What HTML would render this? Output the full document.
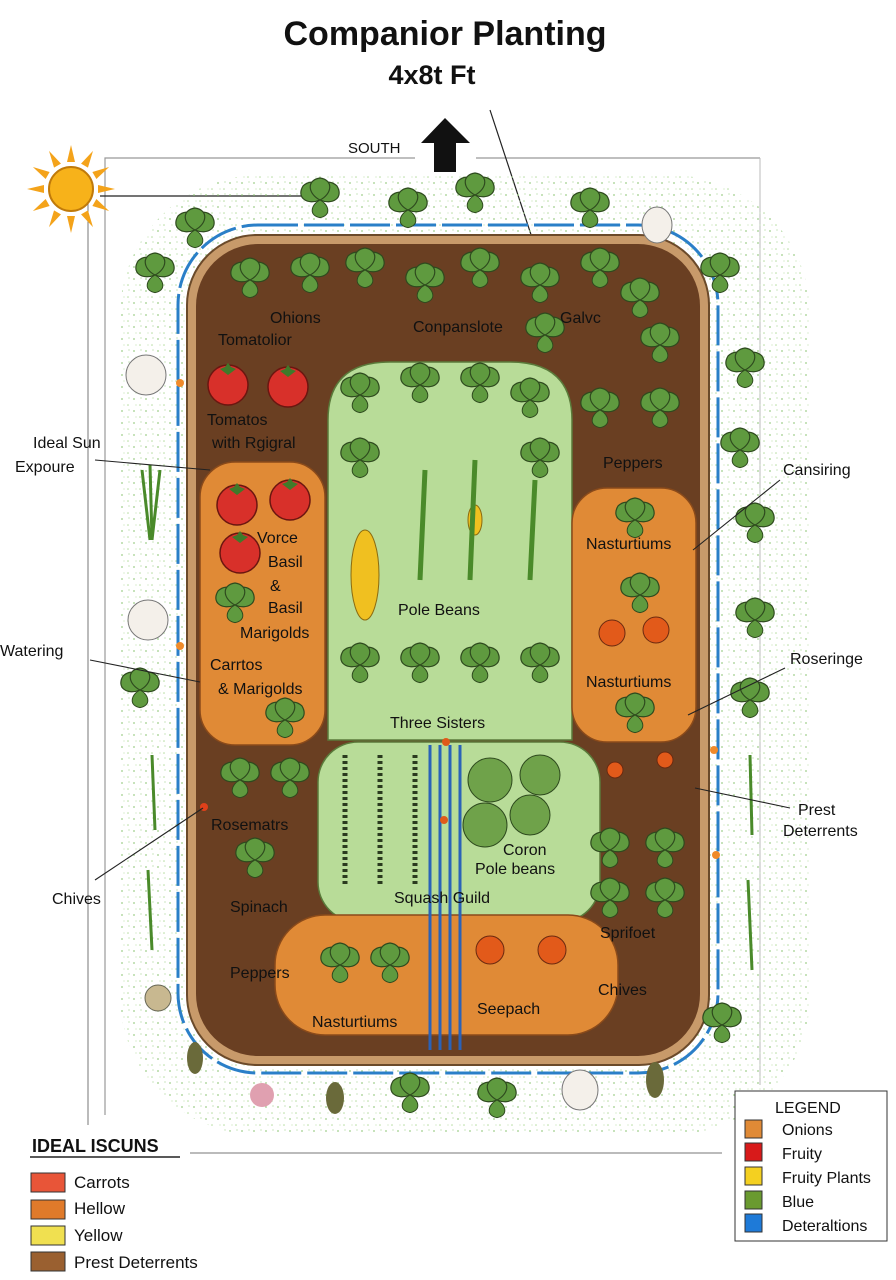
<!DOCTYPE html>
<html><head><style>
body{margin:0;width:896px;height:1280px;background:#fff;overflow:hidden}
svg{display:block}
text{font-family:"Liberation Sans",sans-serif;fill:#111}
</style></head><body>
<svg width="896" height="1280" viewBox="0 0 896 1280">
<defs>
<pattern id="sp" width="12" height="12" patternUnits="userSpaceOnUse">
<circle cx="2" cy="3" r="0.9" fill="#9fce8a"/><circle cx="8" cy="9" r="0.8" fill="#b5dca0"/><circle cx="9" cy="2" r="0.6" fill="#a7d394"/><circle cx="4" cy="9" r="0.6" fill="#c3e3b2"/>
</pattern>
<g id="lf"><path d="M0,0 C-12,-6 -14,-20 0,-22 C14,-20 12,-6 0,0Z" fill="#5f9a3f" stroke="#2e4a1e" stroke-width="1.2"/></g>
<g id="pl"><use href="#lf" transform="rotate(-50)"/><use href="#lf" transform="rotate(50)"/><use href="#lf"/><use href="#lf" transform="rotate(180) scale(.8)"/></g>
<g id="tom"><circle r="20" fill="#d8302a" stroke="#6b1610" stroke-width="1.5"/><path d="M-8,-16 L0,-10 L8,-16 L3,-18 L0,-22 L-3,-18Z" fill="#3f7a2a"/></g>
</defs>
<text x="445" y="45" font-size="34" font-weight="bold" text-anchor="middle">Companior Planting</text>
<text x="432" y="84" font-size="27" font-weight="bold" text-anchor="middle">4x8t Ft</text>
<polyline points="105,1115 105,158 415,158" fill="none" stroke="#999" stroke-width="1.2"/>
<line x1="476" y1="158" x2="760" y2="158" stroke="#999" stroke-width="1.2"/>
<line x1="760" y1="158" x2="760" y2="1085" stroke="#bbb" stroke-width="1"/>
<line x1="88" y1="200" x2="88" y2="1125" stroke="#777" stroke-width="1"/>
<text x="348" y="153" font-size="15">SOUTH</text>
<path d="M421,143 L445,118 L470,143 L456,143 L456,172 L434,172 L434,143Z" fill="#111"/>
<line x1="490" y1="110" x2="540" y2="262" stroke="#222" stroke-width="1.2"/>
<!-- sun -->
<g transform="translate(71,189)"><circle r="22" fill="#f7b21a" stroke="#c07a0a" stroke-width="2"/>
<g fill="#f4a31a"><path d="M-4,-27 L0,-44 L4,-27Z" transform="rotate(0)"/><path d="M-4,-27 L0,-44 L4,-27Z" transform="rotate(30)"/><path d="M-4,-27 L0,-44 L4,-27Z" transform="rotate(60)"/><path d="M-4,-27 L0,-44 L4,-27Z" transform="rotate(90)"/><path d="M-4,-27 L0,-44 L4,-27Z" transform="rotate(120)"/><path d="M-4,-27 L0,-44 L4,-27Z" transform="rotate(150)"/><path d="M-4,-27 L0,-44 L4,-27Z" transform="rotate(180)"/><path d="M-4,-27 L0,-44 L4,-27Z" transform="rotate(210)"/><path d="M-4,-27 L0,-44 L4,-27Z" transform="rotate(240)"/><path d="M-4,-27 L0,-44 L4,-27Z" transform="rotate(270)"/><path d="M-4,-27 L0,-44 L4,-27Z" transform="rotate(300)"/><path d="M-4,-27 L0,-44 L4,-27Z" transform="rotate(330)"/></g></g>
<line x1="100" y1="196" x2="320" y2="196" stroke="#222" stroke-width="1.2"/>
<!-- speckle -->
<rect x="120" y="175" width="690" height="960" rx="140" fill="url(#sp)"/>
<!-- bed -->
<rect x="178" y="225" width="540" height="848" rx="80" fill="none" stroke="#2a7fc8" stroke-width="3" stroke-dasharray="40 6"/>
<rect x="187" y="235" width="522" height="830" rx="70" fill="#c89a6a" stroke="#6b4a2a" stroke-width="2"/>
<rect x="196" y="244" width="504" height="812" rx="62" fill="#6a3f22"/>
<path d="M328,740 L328,420 Q328,362 390,362 L510,362 Q572,362 572,420 L572,740Z" fill="#b8dc98" stroke="#5a7a3a" stroke-width="1.5"/>
<rect x="318" y="742" width="282" height="180" rx="40" fill="#b8dc98" stroke="#5a7a3a" stroke-width="1.5"/>
<rect x="200" y="462" width="125" height="283" rx="35" fill="#e08a36" stroke="#8a4a1a" stroke-width="1.5"/>
<rect x="572" y="488" width="124" height="254" rx="35" fill="#e08a36" stroke="#8a4a1a" stroke-width="1.5"/>
<rect x="275" y="915" width="343" height="120" rx="50" fill="#e08a36" stroke="#8a4a1a" stroke-width="1.5"/>
<path d="M430,745 L430,1050 M460,745 L460,1050 M440,745 L440,1050 M450,745 L450,1050" stroke="#2a62b8" stroke-width="3"/>
<circle cx="446" cy="742" r="4" fill="#e05a1a"/><circle cx="444" cy="820" r="4" fill="#e05a1a"/>
<circle cx="180" cy="383" r="4" fill="#f08a2a"/><circle cx="180" cy="646" r="4" fill="#f08a2a"/><circle cx="714" cy="750" r="4" fill="#f08a2a"/><circle cx="716" cy="855" r="4" fill="#f08a2a"/><circle cx="204" cy="807" r="4" fill="#e0401a"/>
<!-- plants -->
<g>
<use href="#pl" transform="translate(320,200)"/><use href="#pl" transform="translate(408,210)"/><use href="#pl" transform="translate(475,195)"/><use href="#pl" transform="translate(590,210)"/><use href="#pl" transform="translate(195,230)"/><use href="#pl" transform="translate(155,275)"/><use href="#pl" transform="translate(720,275)"/><use href="#pl" transform="translate(745,370)"/><use href="#pl" transform="translate(740,450)"/><use href="#pl" transform="translate(755,525)"/><use href="#pl" transform="translate(755,620)"/><use href="#pl" transform="translate(750,700)"/><use href="#pl" transform="translate(140,690)"/><use href="#pl" transform="translate(722,1025)"/><use href="#pl" transform="translate(497,1100)"/><use href="#pl" transform="translate(410,1095)"/>
<use href="#pl" transform="translate(250,280)"/><use href="#pl" transform="translate(310,275)"/><use href="#pl" transform="translate(365,270)"/><use href="#pl" transform="translate(425,285)"/><use href="#pl" transform="translate(480,270)"/><use href="#pl" transform="translate(540,285)"/><use href="#pl" transform="translate(600,270)"/><use href="#pl" transform="translate(640,300)"/><use href="#pl" transform="translate(545,335)"/><use href="#pl" transform="translate(660,345)"/><use href="#pl" transform="translate(600,410)"/><use href="#pl" transform="translate(660,410)"/>
<use href="#pl" transform="translate(360,395)"/><use href="#pl" transform="translate(420,385)"/><use href="#pl" transform="translate(480,385)"/><use href="#pl" transform="translate(530,400)"/><use href="#pl" transform="translate(360,460)"/><use href="#pl" transform="translate(540,460)"/><use href="#pl" transform="translate(360,665)"/><use href="#pl" transform="translate(420,665)"/><use href="#pl" transform="translate(480,665)"/><use href="#pl" transform="translate(540,665)"/>
<use href="#pl" transform="translate(240,780)"/><use href="#pl" transform="translate(290,780)"/><use href="#pl" transform="translate(255,860)"/><use href="#pl" transform="translate(635,520)"/><use href="#pl" transform="translate(640,595)"/><use href="#pl" transform="translate(635,715)"/><use href="#pl" transform="translate(235,605)"/><use href="#pl" transform="translate(285,720)"/>
<use href="#pl" transform="translate(610,850)"/><use href="#pl" transform="translate(665,850)"/><use href="#pl" transform="translate(610,900)"/><use href="#pl" transform="translate(665,900)"/><use href="#pl" transform="translate(340,965)"/><use href="#pl" transform="translate(390,965)"/>
</g>
<g fill="#6fa24a" stroke="#2e4a1e"><circle cx="490" cy="780" r="22"/><circle cx="540" cy="775" r="20"/><circle cx="485" cy="825" r="22"/><circle cx="530" cy="815" r="20"/></g>
<g stroke="#2a3a1e" stroke-width="5" stroke-dasharray="3 3"><line x1="345" y1="755" x2="345" y2="885"/><line x1="380" y1="755" x2="380" y2="885"/><line x1="415" y1="755" x2="415" y2="885"/></g>
<g fill="#f0c020" stroke="#8a6a10"><ellipse cx="365" cy="575" rx="14" ry="45"/><ellipse cx="475" cy="520" rx="7" ry="15"/></g>
<g stroke="#4a8a2a" stroke-width="5" fill="none"><path d="M420,580 L425,470 M470,580 L475,460 M530,580 L535,480"/></g>
<use href="#tom" transform="translate(228,385)"/><use href="#tom" transform="translate(288,387)"/><use href="#tom" transform="translate(237,505)"/><use href="#tom" transform="translate(290,500)"/><use href="#tom" transform="translate(240,553)"/>
<g fill="#e25a1a" stroke="#6b2a10"><circle cx="612" cy="633" r="13"/><circle cx="656" cy="630" r="13"/><circle cx="490" cy="950" r="14"/><circle cx="552" cy="950" r="14"/><circle cx="615" cy="770" r="8"/><circle cx="665" cy="760" r="8"/></g>
<g fill="#f4f0ea" stroke="#777"><ellipse cx="146" cy="375" rx="20" ry="20"/><ellipse cx="148" cy="620" rx="20" ry="20"/><ellipse cx="657" cy="225" rx="15" ry="18"/><ellipse cx="580" cy="1090" rx="18" ry="20"/></g>
<circle cx="158" cy="998" r="13" fill="#c8b890" stroke="#665"/><circle cx="262" cy="1095" r="12" fill="#e0a0b0"/>
<g fill="#6a6a3a"><ellipse cx="195" cy="1058" rx="8" ry="16"/><ellipse cx="335" cy="1098" rx="9" ry="16"/><ellipse cx="655" cy="1080" rx="9" ry="18"/></g>
<g stroke="#4a8a2a" stroke-width="3"><path d="M150,465 L152,540 M142,470 L150,540 M160,470 L152,540 M152,755 L155,830 M148,870 L152,950 M750,755 L752,835 M748,880 L752,970"/></g>
<!-- labels -->
<g font-size="16">
<text x="270" y="323">Ohions</text><text x="218" y="345">Tomatolior</text><text x="413" y="332">Conpanslote</text><text x="560" y="323">Galvc</text>
<text x="207" y="425">Tomatos</text><text x="212" y="448">with Rgigral</text><text x="603" y="468">Peppers</text>
<text x="257" y="543">Vorce</text><text x="268" y="567">Basil</text><text x="270" y="591">&amp;</text><text x="268" y="613">Basil</text><text x="240" y="638">Marigolds</text><text x="210" y="670">Carrtos</text><text x="218" y="694">&amp; Marigolds</text>
<text x="586" y="549">Nasturtiums</text><text x="586" y="687">Nasturtiums</text><text x="398" y="615">Pole Beans</text><text x="390" y="728">Three Sisters</text>
<text x="211" y="830">Rosematrs</text><text x="230" y="912">Spinach</text><text x="230" y="978">Peppers</text><text x="312" y="1027">Nasturtiums</text>
<text x="503" y="855">Coron</text><text x="475" y="874">Pole beans</text><text x="394" y="903">Squash Guild</text><text x="600" y="938">Sprifoet</text><text x="598" y="995">Chives</text><text x="477" y="1014">Seepach</text>
<text x="33" y="448">Ideal Sun</text><text x="15" y="472">Expoure</text><text x="0" y="656">Watering</text><text x="52" y="904">Chives</text>
<text x="783" y="475">Cansiring</text><text x="790" y="664">Roseringe</text><text x="798" y="815">Prest</text><text x="783" y="836">Deterrents</text>
</g>
<g stroke="#222" stroke-width="1.1"><line x1="95" y1="460" x2="210" y2="470"/><line x1="90" y1="660" x2="200" y2="682"/><line x1="95" y1="880" x2="203" y2="808"/><line x1="780" y1="480" x2="693" y2="550"/><line x1="785" y1="668" x2="688" y2="715"/><line x1="790" y1="808" x2="695" y2="788"/></g>
<!-- legends -->
<text x="32" y="1152" font-size="18" font-weight="bold">IDEAL ISCUNS</text>
<line x1="30" y1="1157" x2="180" y2="1157" stroke="#222" stroke-width="1.5"/>
<line x1="190" y1="1153" x2="722" y2="1153" stroke="#777"/>
<g stroke="#333" stroke-width="1"><rect x="31" y="1173" width="34" height="19" fill="#e85538"/><rect x="31" y="1200" width="34" height="19" fill="#e07a2a"/><rect x="31" y="1226" width="34" height="19" fill="#f0e050"/><rect x="31" y="1252" width="34" height="19" fill="#9a6030"/></g>
<g font-size="17"><text x="74" y="1188">Carrots</text><text x="74" y="1214">Hellow</text><text x="74" y="1241">Yellow</text><text x="74" y="1268">Prest Deterrents</text></g>
<rect x="735" y="1091" width="152" height="150" fill="#fff" stroke="#333"/>
<text x="775" y="1113" font-size="16">LEGEND</text>
<g stroke="#333" stroke-width="1"><rect x="745" y="1120" width="17" height="18" fill="#e08a36"/><rect x="745" y="1143" width="17" height="18" fill="#d81a1a"/><rect x="745" y="1167" width="17" height="18" fill="#f4d020"/><rect x="745" y="1191" width="17" height="18" fill="#6a9a30"/><rect x="745" y="1214" width="17" height="18" fill="#1e7ad8"/></g>
<g font-size="16"><text x="782" y="1135">Onions</text><text x="782" y="1159">Fruity</text><text x="782" y="1183">Fruity Plants</text><text x="782" y="1207">Blue</text><text x="782" y="1231">Deteraltions</text></g>
</svg>
</body></html>
